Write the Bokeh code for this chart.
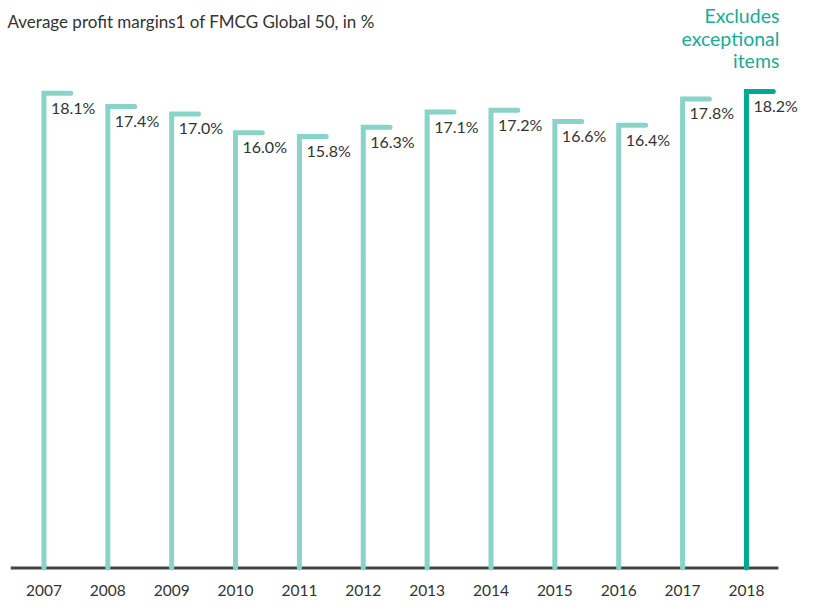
from bokeh.plotting import figure
from bokeh.models import ColumnDataSource, LabelSet, Label, FixedTicker, Range1d
from bokeh.core.properties import value
from bokeh.embed import file_html
from bokeh.resources import INLINE

# ---- data ----
years = [2007, 2008, 2009, 2010, 2011, 2012, 2013, 2014, 2015, 2016, 2017, 2018]
margins = [18.1, 17.4, 17.0, 16.0, 15.8, 16.3, 17.1, 17.2, 16.6, 16.4, 17.8, 18.2]
highlight_year = 2018
title_text = "Average profit margins1 of FMCG Global 50, in %"
note_text = "Excludes\nexceptional\nitems"

# ---- styling / scale ----
LIGHT = "#8ad3c8"
DARK = "#00a98f"
TEXT = "#333333"
PX_PER_UNIT = 18.8
BASE = -7.15          # visual baseline of the chart's value scale
Y_START = -7.39
Y_END = Y_START + 572 / PX_PER_UNIT
X_START, X_END = 2006.32, 2018.94
BASE_X_START, BASE_X_END = 2006.48, 2018.5
STUB = 0.42           # length of the horizontal cap, in year units

labels = [f"{m:.1f}%" for m in margins]
colors = [DARK if y == highlight_year else LIGHT for y in years]
xs = [[y, y, y + STUB] for y in years]
ys = [[BASE, m, m] for m in margins]

src = ColumnDataSource(dict(xs=xs, ys=ys, color=colors))
lab_src = ColumnDataSource(dict(x=years, y=margins, text=labels))

p = figure(frame_width=806, frame_height=572,
           x_range=Range1d(X_START, X_END), y_range=Range1d(Y_START, Y_END),
           output_backend="svg", toolbar_location=None,
           y_axis_location=None,
           min_border_left=0, min_border_right=0, min_border_top=0, min_border_bottom=26)
p.outline_line_color = None
p.xgrid.visible = False
p.ygrid.visible = False
p.background_fill_color = "white"
p.border_fill_color = "white"

# baseline
p.segment(x0=[BASE_X_START], x1=[BASE_X_END], y0=[BASE], y1=[BASE],
          line_color="#444444", line_width=3)

p.multi_line(xs="xs", ys="ys", line_color="color", line_width=5,
             line_cap="round", line_join="miter", source=src)

p.add_layout(LabelSet(x="x", y="y", text="text", source=lab_src,
                      x_offset=7, y_offset=-4.5, text_baseline="top",
                      text_align="left", text_font=value("Lato"),
                      text_font_size=value("16px"), text_color=TEXT))

ax = p.xaxis[0]
ax.ticker = FixedTicker(ticks=years)
ax.major_label_overrides = {y: str(y) for y in years}
ax.axis_line_color = None
ax.major_tick_line_color = None
ax.minor_tick_line_color = None
ax.major_label_standoff = 6
ax.major_label_text_font = "Lato"
ax.major_label_text_font_size = "15.5px"
ax.major_label_text_color = TEXT

p.add_layout(Label(x=X_START, y=BASE + (567.5 - 21) / PX_PER_UNIT, x_offset=7,
                   text=title_text, text_font="Lato",
                   text_font_size="17px", text_color=TEXT,
                   text_baseline="alphabetic", text_align="left"))

p.add_layout(Label(x=BASE_X_END, y=BASE + (567.5 - 4) / PX_PER_UNIT, x_offset=1,
                   text=note_text, text_font="Lato", text_font_size="19.5px",
                   text_color="#1aab95", text_baseline="top", text_align="right",
                   text_line_height=0.96))

open("out.html", "w").write(file_html(p, INLINE))
